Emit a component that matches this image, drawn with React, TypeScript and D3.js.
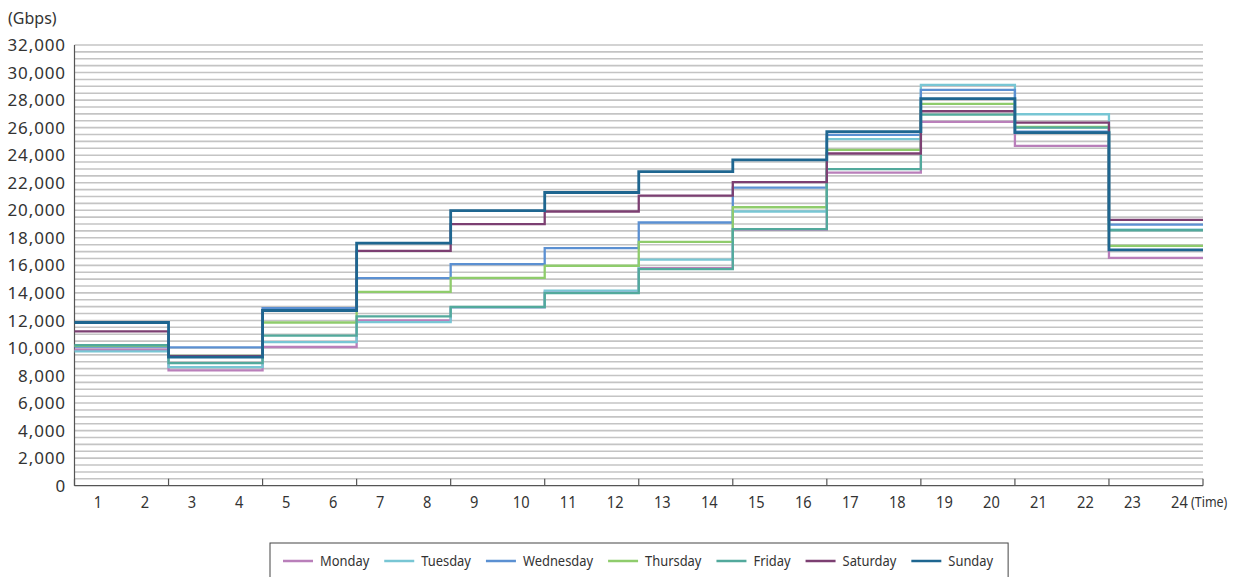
import React, { useEffect, useRef } from "react";
import * as d3 from "d3";

const hours = d3.range(1, 25);
const yTicks = d3.range(0, 32001, 2000);
const seriesNames = ["Monday", "Tuesday", "Wednesday", "Thursday", "Friday", "Saturday", "Sunday"];
const seriesColors = ["#b97fba", "#78c6d4", "#5b90d2", "#8fcc6c", "#52a99c", "#7c3f72", "#1e6690"];

// values per 2-hour block (hours 1-2, 3-4, ..., 23-24)
const monday = [9870, 8370, 10070, 12000, 12950, 14030, 15800, 18600, 22740, 26420, 24670, 16550];
const tuesday = [9750, 8610, 10430, 11880, 12950, 14170, 16420, 19910, 25160, 29100, 26970, 18600];
const wednesday = [10100, 10040, 12900, 15070, 16090, 17250, 19110, 21650, 25470, 28740, 25700, 18960];
const thursday = [10150, 9430, 11850, 14080, 15090, 15970, 17710, 20220, 24380, 27720, 26050, 17420];
const friday = [10200, 8900, 10890, 12290, 12990, 13980, 15720, 18630, 22980, 26950, 26000, 18550];
const saturday = [11200, 9400, 12750, 17050, 18990, 19910, 21070, 22040, 24120, 27190, 26360, 19300];
const sunday = [11850, 9340, 12720, 17610, 19980, 21290, 22810, 23660, 25710, 28110, 25640, 17130];

const seriesValues = [monday, tuesday, wednesday, thursday, friday, saturday, sunday];

const W = 1239;
const H = 577;
const M = { left: 74.5, right: 1203, top: 45, bottom: 485.7 };
const FONT = "'Noto Sans', 'Open Sans', sans-serif";
const NARROW = 0.86;

export default function App() {
  const ref = useRef<SVGSVGElement>(null);

  useEffect(() => {
    const svg = d3.select(ref.current);
    svg.selectAll("*").remove();

    const x = d3.scaleLinear().domain([0, 24]).range([M.left, M.right]);
    const y = d3.scaleLinear().domain([0, 32000]).range([M.bottom, M.top]);

    const narrow = (t: d3.Selection<SVGTextElement, any, any, any>) => {
      t.each(function () {
        const w = (this as SVGTextElement).getComputedTextLength();
        d3.select(this).attr("textLength", w * NARROW).attr("lengthAdjust", "spacingAndGlyphs");
      });
    };

    // gridlines every 500
    const grid = d3.range(500, 32001, 500);
    svg.append("g")
      .selectAll("line")
      .data(grid)
      .join("line")
      .attr("x1", M.left)
      .attr("x2", M.right)
      .attr("y1", (d) => y(d))
      .attr("y2", (d) => y(d))
      .attr("stroke", "#c4c4c4")
      .attr("stroke-width", 1.6);

    // axes
    svg.append("line")
      .attr("x1", M.left).attr("x2", M.left)
      .attr("y1", M.top).attr("y2", M.bottom)
      .attr("stroke", "#555").attr("stroke-width", 1.2);
    svg.append("line")
      .attr("x1", M.left).attr("x2", M.right)
      .attr("y1", M.bottom).attr("y2", M.bottom)
      .attr("stroke", "#555").attr("stroke-width", 1.2);

    // x ticks at every 2 hours
    svg.append("g")
      .selectAll("line")
      .data(d3.range(0, 25, 2))
      .join("line")
      .attr("x1", (d) => x(d))
      .attr("x2", (d) => x(d))
      .attr("y1", M.bottom)
      .attr("y2", M.bottom - 7)
      .attr("stroke", "#555")
      .attr("stroke-width", 1.2);

    // y labels
    svg.append("g")
      .selectAll("text")
      .data(yTicks)
      .join("text")
      .attr("x", 66)
      .attr("y", (d) => y(d))
      .attr("dy", "0.36em")
      .attr("text-anchor", "end")
      .attr("font-family", FONT)
      .attr("font-size", 17)
      .attr("letter-spacing", 0.9)
      .attr("fill", "#333")
      .text((d) => d3.format(",")(d));

    // x labels
    svg.append("g")
      .selectAll("text")
      .data(hours)
      .join("text")
      .attr("x", (d) => x(d - 0.5))
      .attr("y", 502)
      .attr("dy", "0.36em")
      .attr("text-anchor", "middle")
      .attr("font-family", FONT)
      .attr("font-size", 17)
      .attr("fill", "#333")
      .text((d) => String(d))
      .call(narrow as any);

    const timeT = svg.append("text")
      .attr("x", x(24) - 12)
      .attr("y", 502)
      .attr("dy", "0.36em")
      .attr("font-family", FONT)
      .attr("font-size", 14.5)
      .attr("fill", "#333")
      .text("(Time)");
    timeT.call(narrow as any);

    svg.append("text")
      .attr("x", 8)
      .attr("y", 18)
      .attr("dy", "0.36em")
      .attr("font-family", FONT)
      .attr("font-size", 16)
      .attr("fill", "#333")
      .text("(Gbps)");

    // step lines
    const line = d3.line<[number, number]>()
      .x((d) => x(d[0]))
      .y((d) => y(d[1]))
      .curve(d3.curveStepAfter);

    seriesValues.forEach((vals, i) => {
      const pts: [number, number][] = vals.map((v, k) => [k * 2, v]);
      pts.push([24, vals[vals.length - 1]]);
      svg.append("path")
        .attr("d", line(pts) as string)
        .attr("fill", "none")
        .attr("stroke", seriesColors[i])
        .attr("stroke-width", i === 6 ? 2.8 : 2.3)
        .attr("stroke-linejoin", "miter");
    });

    // legend
    const lg = svg.append("g");
    const box = lg.append("rect")
      .attr("fill", "white")
      .attr("stroke", "#444")
      .attr("stroke-width", 1);
    let cx = 283;
    const legY = 561;
    const gap = 15;
    seriesNames.forEach((name, i) => {
      lg.append("line")
        .attr("x1", cx).attr("x2", cx + 30)
        .attr("y1", legY).attr("y2", legY)
        .attr("stroke", seriesColors[i])
        .attr("stroke-width", 2.5);
      const t = lg.append("text")
        .attr("x", cx + 37)
        .attr("y", legY)
        .attr("dy", "0.34em")
        .attr("font-family", FONT)
        .attr("font-size", 15)
        .attr("fill", "#333")
        .text(name);
      const w0 = (t.node() as SVGTextElement).getComputedTextLength();
      const w = w0 * NARROW;
      t.attr("textLength", w).attr("lengthAdjust", "spacingAndGlyphs");
      cx = cx + 37 + w + gap;
    });
    box.attr("x", 270).attr("y", 543).attr("width", cx - gap + 15 - 270).attr("height", 50);
  }, []);

  return (
    <div style={{ position: "absolute", left: 0, top: 0 }}>
      <svg ref={ref} width={W} height={H} style={{ display: "block", background: "white" }} />
    </div>
  );
}
